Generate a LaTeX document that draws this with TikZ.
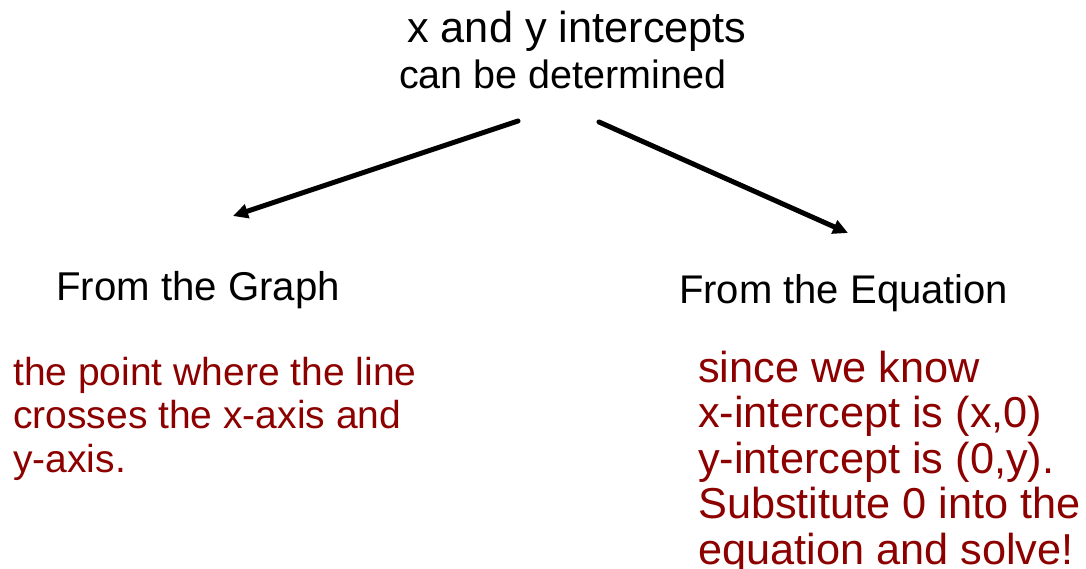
\documentclass[tikz,border=0pt]{standalone}
\usepackage{fontspec}
\setmainfont{Liberation Sans}
\usetikzlibrary{arrows.meta}
\definecolor{notered}{RGB}{140,0,0}
\tikzset{
  heading/.style={inner sep=0pt, anchor=base west, text=black},
  % multi-line notes: the base anchor sits on the last line
  note/.style={inner sep=0pt, anchor=base west, align=left, text=notered},
  branch/.style={line width=5pt, line cap=round, -{Triangle[length=15pt,width=14pt]}}
}
\begin{document}
\begin{tikzpicture}[x=1pt,y=-1pt]
  \useasboundingbox (0,0) rectangle (1086,569);
  % title
  \node[heading, font=\fontsize{43.3}{46}\selectfont] (t1) at (407,43) {x and y intercepts};
  \node[heading, font=\fontsize{39.5}{46}\selectfont] (t2) at (399,89) {can be determined};
  % arrow start points under the title
  \coordinate (sL) at (518,121);
  \coordinate (sR) at (599,122);
  % branch headings
  \node[heading, font=\fontsize{40.2}{46}\selectfont] (graph) at (56,300) {From the Graph};
  \node[heading, font=\fontsize{40}{46}\selectfont] (eqn) at (679,303) {From the Equation};
  \coordinate (eL) at (233,216);
  \coordinate (eR) at (848,233);
  \draw[branch] (sL) -- (eL);
  \draw[branch] (sR) -- (eR);
  % explanations
  \node[note, font=\fontsize{39}{43.5}\selectfont] (gtext) at (13,472)
    {the point where the line\\crosses the x-axis and\\y-axis.};
  \node[note, font=\fontsize{43.3}{45.5}\selectfont] (etext) at (698,564)
    {since we know\\x-intercept is (x,0)\\y-intercept is (0,y).\\Substitute 0 into the\\equation and solve!};
\end{tikzpicture}
\end{document}
